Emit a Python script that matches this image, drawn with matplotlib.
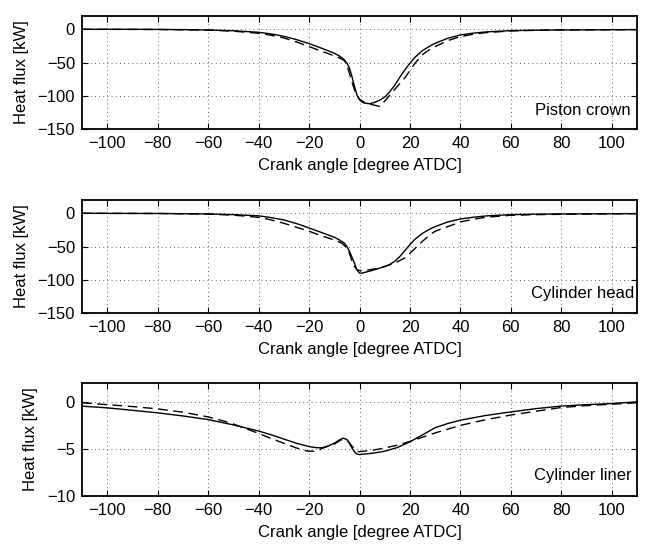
import numpy as np
import matplotlib
matplotlib.use("Agg")
import matplotlib.pyplot as plt

plt.rcParams['font.family'] = ['Liberation Sans', 'DejaVu Sans']
plt.rcParams['font.size'] = 12

# Поршень (piston crown)
pc_x_solid = [-110, -90, -80, -70, -60, -50, -40, -35, -30, -25, -20, -15, -10, -8, -6, -5, -4, -3, -2, -1, 0, 1, 2, 4, 6, 8, 10, 12, 14, 16, 18, 20, 22, 25, 28, 30, 35, 40, 45, 50, 60, 70, 80, 110]
pc_y_solid = [0, 0, -0.2, -0.5, -1, -2.2, -4.5, -7, -10.5, -15.5, -21.5, -28.5, -36, -40, -46, -51, -58, -71, -86, -99, -106, -109.5, -111, -112, -110, -106.5, -102, -94, -84, -72, -61, -51, -42, -32, -25, -21, -13.5, -8.5, -5.8, -4, -2, -1.3, -1, -0.5]
pc_x_dash = [-110, -80, -60, -50, -40, -35, -30, -25, -20, -15, -10, -8, -6, -5, -4, -3, -2, -1, 0, 2, 4, 8, 10, 12, 15, 18, 20, 22, 25, 28, 30, 35, 40, 45, 50, 60, 70, 80, 110]
pc_y_dash = [0, -0.3, -1.2, -2.8, -6, -9, -13, -19, -26, -33, -40, -43, -47, -54, -66, -79, -91, -100, -105, -110, -112.5, -116, -108, -99, -86, -73, -62, -51, -38, -30, -26, -17, -11, -7.5, -5, -2.5, -1.5, -1, -0.5]

# Головка (cylinder head)
ch_x_solid = [-110, -80, -70, -60, -50, -40, -35, -30, -25, -20, -15, -10, -8, -6, -5, -4, -3, -2, -1, 0, 1, 2, 5, 8, 10, 12, 14, 16, 18, 20, 22, 25, 28, 30, 35, 40, 45, 50, 60, 70, 80, 110]
ch_y_solid = [0, -0.3, -0.6, -1, -2, -3.8, -6.5, -10, -15.5, -22, -29, -36, -40, -45, -50, -57, -66, -75, -85, -90, -90, -89, -86, -82.5, -80, -77, -72, -65, -56, -47, -39, -30, -23.5, -20, -13, -8.5, -6, -4, -2, -1.3, -1, -0.5]
ch_x_dash = [-110, -80, -60, -50, -40, -35, -30, -25, -20, -15, -10, -7, -5, -4, -3, -2, -1, 0, 2, 4, 7, 10, 14, 16, 18, 20, 22, 25, 28, 30, 35, 40, 45, 50, 60, 70, 80, 110]
ch_y_dash = [0, -0.3, -1.2, -2.8, -6, -10, -15, -21, -27, -34, -40, -45, -52, -60, -72, -80, -85, -86, -86, -85, -83, -80, -75, -71, -67, -60, -53, -42, -32, -27, -20, -13, -9, -6, -3, -2, -1.5, -0.5]

# Гильза (cylinder liner)
cl_x_solid = [-110, -100, -90, -80, -70, -60, -50, -40, -35, -30, -25, -20, -17, -15, -13, -10, -8, -6.5, -5, -4, -3, -2, -1, 0, 5, 10, 15, 20, 25, 30, 35, 40, 50, 60, 70, 80, 90, 100, 110]
cl_y_solid = [-0.46, -0.64, -0.9, -1.17, -1.5, -1.88, -2.45, -3.1, -3.5, -3.95, -4.4, -4.75, -4.87, -4.88, -4.75, -4.4, -4.05, -3.85, -4.0, -4.4, -4.9, -5.3, -5.55, -5.6, -5.46, -5.25, -4.85, -4.25, -3.5, -2.75, -2.3, -1.95, -1.45, -1.07, -0.72, -0.45, -0.3, -0.18, 0]
cl_x_dash = [-110, -100, -90, -80, -70, -60, -55, -50, -45, -40, -35, -30, -25, -22, -20, -18, -16, -14, -10, -8, -7, -6, -5, -4, -3, -2, -1, 0, 5, 10, 15, 20, 25, 30, 40, 50, 60, 70, 80, 90, 100, 110]
cl_y_dash = [-0.1, -0.3, -0.5, -0.75, -1.1, -1.6, -1.95, -2.35, -2.85, -3.35, -3.9, -4.4, -4.9, -5.15, -5.25, -5.25, -5.1, -4.85, -4.5, -4.15, -4.0, -3.95, -4.05, -4.35, -4.7, -5.0, -5.25, -5.3, -5.15, -4.9, -4.6, -4.2, -3.75, -3.3, -2.5, -1.9, -1.4, -1.0, -0.6, -0.4, -0.25, -0.1]

x_ticks = [-100, -80, -60, -40, -20, 0, 20, 40, 60, 80, 100]

panels = [
    (pc_x_solid, pc_y_solid, pc_x_dash, pc_y_dash, (-150, 20), [-150, -100, -50, 0], "Piston crown", -122),
    (ch_x_solid, ch_y_solid, ch_x_dash, ch_y_dash, (-150, 20), [-150, -100, -50, 0], "Cylinder head", -120),
    (cl_x_solid, cl_y_solid, cl_x_dash, cl_y_dash, (-10, 2), [-10, -5, 0], "Cylinder liner", -7.8),
]

fig = plt.figure(figsize=(6.45, 5.44), dpi=100)
W, H = 645, 544
tops = [16, 200, 383]
for (xs, ys, xd, yd, ylim, yt, name, ty), top in zip(panels, tops):
    ax = fig.add_axes([82 / W, 1 - (top + 113) / H, (637 - 82) / W, 113 / H])
    ax.plot(xs, ys, color="black", lw=1.0)
    ax.plot(xd, yd, color="black", lw=1.0, dashes=(7, 4))
    ax.set_xlim(-110, 110)
    ax.set_ylim(*ylim)
    ax.set_xticks(x_ticks)
    ax.set_yticks(yt)
    ax.grid(True, linestyle=(0, (1, 4)), color="black", lw=0.6, alpha=0.8)
    ax.tick_params(direction="in", top=True, right=True, length=4, width=0.8, pad=5)
    for sp in ax.spines.values():
        sp.set_linewidth(1.3)
    ax.set_xlabel("Crank angle [degree ATDC]", labelpad=5)
    ax.set_ylabel("Heat flux [kW]", labelpad=6)
    ax.text(88.5, ty, name, ha="center", va="center")

fig.savefig("out.png", dpi=100)
